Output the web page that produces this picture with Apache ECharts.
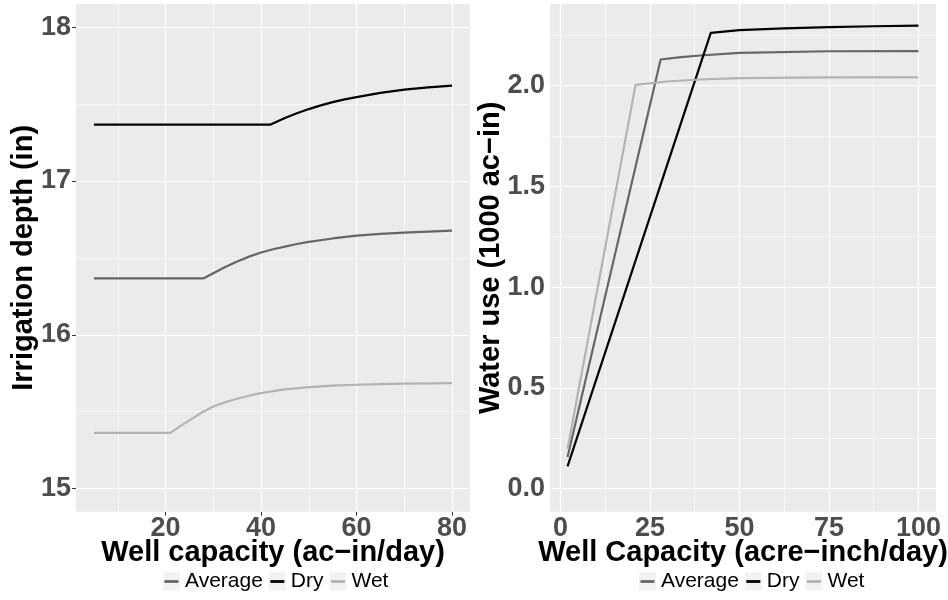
<!DOCTYPE html>
<html>
<head>
<meta charset="utf-8">
<script src="https://cdn.jsdelivr.net/npm/echarts@6/dist/echarts.min.js"></script>
<style>
html,body{margin:0;padding:0;background:#fff;}
#c{width:948px;height:600px;}
</style>
</head>
<body>
<div id="c"></div>
<script>
// ---------- Left panel: Irrigation depth (in) vs Well capacity (ac-in/day)
const avgX_L = [5, 28, 30, 32.5, 35, 37.5, 40, 42.5, 45, 47.5, 50, 55, 60, 65, 70, 75, 80];
const avgY_L = [16.367, 16.367, 16.400, 16.440, 16.476, 16.508, 16.535, 16.556, 16.573, 16.590, 16.604, 16.626, 16.645, 16.656, 16.664, 16.671, 16.677];
const dryX_L = [5, 42, 45, 47.5, 50, 52.5, 55, 57.5, 60, 65, 70, 75, 80];
const dryY_L = [17.366, 17.366, 17.409, 17.440, 17.467, 17.491, 17.512, 17.530, 17.545, 17.572, 17.593, 17.608, 17.620];
const wetX_L = [5, 21, 23, 25, 27.5, 30, 32.5, 35, 37.5, 40, 42.5, 45, 50, 55, 60, 65, 70, 75, 80];
const wetY_L = [15.362, 15.362, 15.405, 15.444, 15.493, 15.534, 15.562, 15.584, 15.604, 15.621, 15.634, 15.645, 15.660, 15.669, 15.675, 15.679, 15.682, 15.684, 15.686];

// ---------- Right panel: Water use (1000 ac-in) vs Well Capacity (acre-inch/day)
const avgX_R = [2, 28, 33, 39, 50, 75, 100];
const avgY_R = [0.157, 2.129, 2.140, 2.149, 2.162, 2.170, 2.171];
const dryX_R = [2, 42, 50, 62.5, 75, 87.5, 100];
const dryY_R = [0.110, 2.261, 2.275, 2.284, 2.290, 2.294, 2.297];
const wetX_R = [2, 21, 29.6, 39, 50, 75, 100];
const wetY_R = [0.197, 2.003, 2.020, 2.030, 2.037, 2.040, 2.041];

// ---------- Axis ticks / gridlines
const xTicksL = [20, 40, 60, 80];
const xMinorL = [10, 30, 50, 70];
const yTicksL = [15, 16, 17, 18];
const yMinorL = [15.5, 16.5, 17.5];
const xTicksR = [0, 25, 50, 75, 100];
const xMinorR = [12.5, 37.5, 62.5, 87.5];
const yTicksR = [0, 0.5, 1.0, 1.5, 2.0];
const yMinorR = [0.25, 0.75, 1.25, 1.75, 2.25];

const seriesNames = ['Average', 'Dry', 'Wet'];
const seriesColors = ['#666666', '#000000', '#b3b3b3'];

const FONT = '"Liberation Sans", Arial, Helvetica, sans-serif';
const pairs = (xs, ys) => xs.map((x, i) => [x, ys[i]]);

function gridLines(xMaj, xMin, yMaj, yMin) {
  const d = [];
  xMin.forEach(v => d.push({xAxis: v, lineStyle: {width: 0.6}}));
  yMin.forEach(v => d.push({yAxis: v, lineStyle: {width: 0.6}}));
  xMaj.forEach(v => d.push({xAxis: v, lineStyle: {width: 1.2}}));
  yMaj.forEach(v => d.push({yAxis: v, lineStyle: {width: 1.2}}));
  return d;
}

function xAxisCfg(gi, min, max, ticks, name) {
  return {
    type: 'value', gridIndex: gi, min: min, max: max,
    axisLine: {show: false},
    axisTick: {show: true, customValues: ticks, length: 4, lineStyle: {color: '#333333', width: 1}},
    axisLabel: {customValues: ticks, fontSize: 27, fontWeight: 'bold', color: '#4d4d4d', fontFamily: FONT, margin: 3},
    splitLine: {show: false},
    name: name, nameLocation: 'middle', nameGap: 27, nameMoveOverlap: false,
    nameTextStyle: {fontSize: 29, fontWeight: 'bold', color: '#000', fontFamily: FONT}
  };
}
function yAxisCfg(gi, min, max, ticks, name, fmt, gap) {
  return {
    type: 'value', gridIndex: gi, min: min, max: max,
    axisLine: {show: false},
    axisTick: {show: true, customValues: ticks, length: 4, lineStyle: {color: '#333333', width: 1}},
    axisLabel: {customValues: ticks, fontSize: 27, fontWeight: 'bold', color: '#4d4d4d', fontFamily: FONT, margin: 5, formatter: fmt},
    splitLine: {show: false},
    name: name, nameLocation: 'middle', nameGap: gap, nameRotate: 90, nameMoveOverlap: false,
    nameTextStyle: {fontSize: 29, fontWeight: 'bold', color: '#000', fontFamily: FONT}
  };
}

const dataL = [pairs(avgX_L, avgY_L), pairs(dryX_L, dryY_L), pairs(wetX_L, wetY_L)];
const dataR = [pairs(avgX_R, avgY_R), pairs(dryX_R, dryY_R), pairs(wetX_R, wetY_R)];

const series = [];
[0, 1].forEach(gi => {
  series.push({
    name: '_grid' + gi, type: 'line', xAxisIndex: gi, yAxisIndex: gi, data: [],
    silent: true, animation: false,
    markLine: {
      silent: true, symbol: ['none', 'none'], z: 1, animation: false,
      label: {show: false}, emphasis: {disabled: true},
      lineStyle: {color: '#ffffff', type: 'solid'},
      data: gi === 0 ? gridLines(xTicksL, xMinorL, yTicksL, yMinorL)
                     : gridLines(xTicksR, xMinorR, yTicksR, yMinorR)
    }
  });
  seriesNames.forEach((n, k) => {
    series.push({
      name: n, type: 'line', xAxisIndex: gi, yAxisIndex: gi, z: 3,
      data: gi === 0 ? dataL[k] : dataR[k],
      symbol: 'none', showSymbol: false, smooth: false, animation: false,
      color: seriesColors[k],
      lineStyle: {width: 2.2, color: seriesColors[k]},
      emphasis: {disabled: true}
    });
  });
});

// legend key: a horizontal bar inside an invisible 14x18 box
const KEY_ICON = 'path://M0,0 M14,18 M0,7.6 L14,7.6 L14,10.4 L0,10.4 Z';

function legendPair(left) {
  return [
    {
      data: seriesNames, left: left, top: 571, orient: 'horizontal', padding: 0,
      itemWidth: 17, itemHeight: 18, itemGap: 6, icon: 'rect', selectedMode: false,
      itemStyle: {color: '#f2f2f2', borderWidth: 0},
      textStyle: {fontSize: 21, color: '#000', fontFamily: FONT}
    },
    {
      data: seriesNames, left: left + 1.5, top: 571, orient: 'horizontal', padding: 0,
      itemWidth: 14, itemHeight: 18, itemGap: 9, icon: KEY_ICON, selectedMode: false,
      itemStyle: {borderWidth: 0},
      textStyle: {fontSize: 21, color: 'rgba(0,0,0,0)', fontFamily: FONT}
    }
  ];
}

const option = {
  backgroundColor: '#ffffff',
  animation: false,
  textStyle: {fontFamily: FONT},
  grid: [
    {left: 76, top: 4, width: 394, height: 507.7, show: true, backgroundColor: '#ebebeb', borderWidth: 0, outerBoundsMode: 'none', containLabel: false},
    {left: 550, top: 4, width: 386, height: 507.7, show: true, backgroundColor: '#ebebeb', borderWidth: 0, outerBoundsMode: 'none', containLabel: false}
  ],
  xAxis: [
    xAxisCfg(0, 1.25, 83.75, xTicksL, 'Well capacity (ac\u2212in/day)'),
    xAxisCfg(1, -2.9, 104.9, xTicksR, 'Well Capacity (acre\u2212inch/day)')
  ],
  yAxis: [
    yAxisCfg(0, 14.85, 18.15, yTicksL, 'Irrigation depth (in)', v => String(v), 38),
    yAxisCfg(1, -0.1145, 2.4045, yTicksR, 'Water use (1000 ac\u2212in)', v => Number(v).toFixed(1), 45)
  ],
  legend: legendPair(163).concat(legendPair(639)),
  series: series
};

const chart = echarts.init(document.getElementById('c'), null, {renderer: 'canvas'});
chart.setOption(option);
</script>
</body>
</html>
